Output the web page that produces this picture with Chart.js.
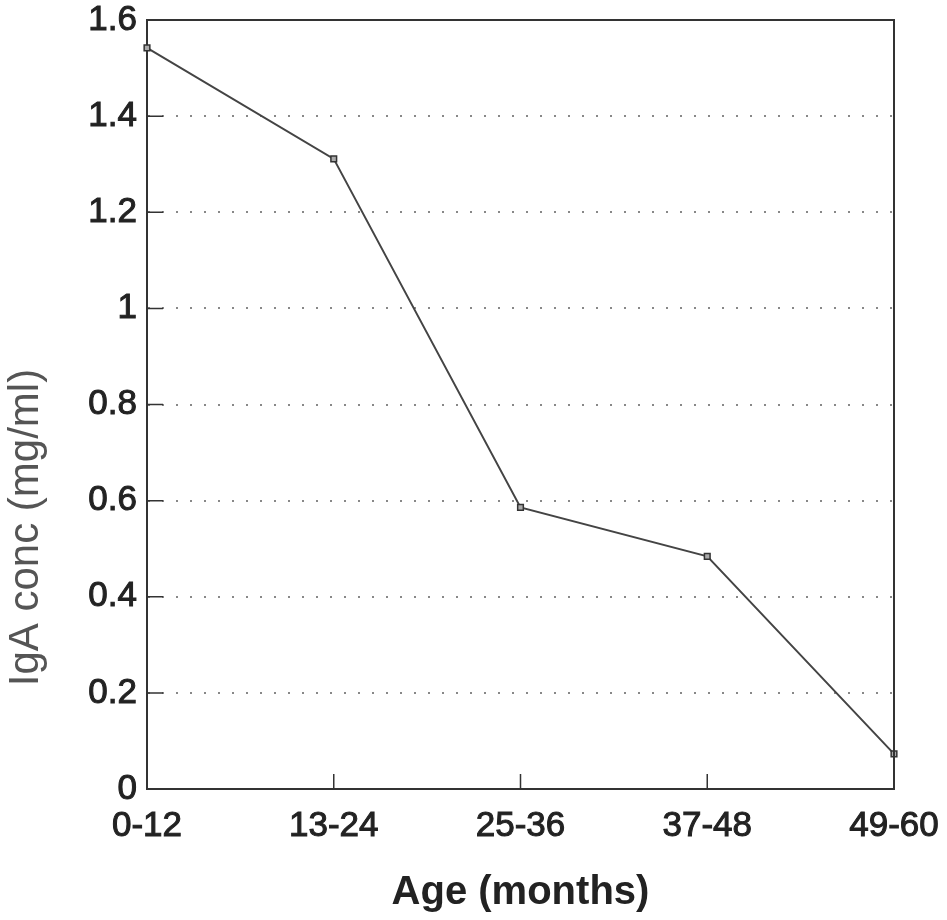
<!DOCTYPE html>
<html>
<head>
<meta charset="utf-8">
<title>IgA conc by age</title>
<script src="https://cdn.jsdelivr.net/npm/chart.js@4.4.0/dist/chart.umd.min.js"></script>
<style>
    html, body { margin: 0; padding: 0; background: #fff; }
    #wrap { width: 947px; height: 920px; }
</style>
</head>
<body>
<div id="wrap"><canvas id="myChart" width="947" height="920"></canvas></div>
<script>
var ageGroups = ['0-12', '13-24', '25-36', '37-48', '49-60'];
var igaValues = [1.542, 1.311, 0.586, 0.484, 0.073];
var yTicks = [0, 0.2, 0.4, 0.6, 0.8, 1, 1.2, 1.4, 1.6];
var xTitle = 'Age (months)';
var yTitle = 'IgA conc (mg/ml)';

var fontFamily = '"Liberation Sans", Arial, Helvetica, sans-serif';
var inkColor = '#333';

// top/right frame, inward tick marks and the y title
var framePlugin = {
    id: 'frame',
    afterDraw: function (chart) {
        var ctx = chart.ctx;
        var area = chart.chartArea;
        var xScale = chart.scales.x;
        var yScale = chart.scales.y;

        ctx.save();
        ctx.strokeStyle = inkColor;
        ctx.lineWidth = 2;
        ctx.beginPath();
        ctx.moveTo(area.left, area.top);
        ctx.lineTo(area.right, area.top);
        ctx.lineTo(area.right, area.bottom);
        ctx.stroke();

        ctx.lineWidth = 1.5;
        ctx.beginPath();
        yTicks.slice(1, -1).forEach(function (v) {
            var y = yScale.getPixelForValue(v);
            ctx.moveTo(area.left, y);
            ctx.lineTo(area.left + 16, y);
        });
        ageGroups.slice(1, -1).forEach(function (label, i) {
            var x = xScale.getPixelForValue(i + 1);
            ctx.moveTo(x, area.bottom);
            ctx.lineTo(x, area.bottom - 15);
        });
        ctx.stroke();

        ctx.translate(38, area.top + (area.bottom - area.top) * 0.66);
        ctx.rotate(-Math.PI / 2);
        ctx.font = '42px ' + fontFamily;
        ctx.fillStyle = '#555';
        ctx.textAlign = 'center';
        ctx.textBaseline = 'alphabetic';
        ctx.fillText(yTitle, 0, 0);
        ctx.restore();
    }
};

var ctx = document.getElementById('myChart').getContext('2d');
var myChart = new Chart(ctx, {
    type: 'line',
    data: {
        labels: ageGroups,
        datasets: [{
            label: 'IgA',
            data: igaValues,
            borderColor: '#444',
            borderWidth: 2,
            tension: 0,
            fill: false,
            pointStyle: 'rect',
            pointRadius: 4,
            pointBackgroundColor: '#aaa',
            pointBorderColor: '#333',
            pointBorderWidth: 1.5,
            clip: false
        }]
    },
    options: {
        responsive: false,
        animation: false,
        devicePixelRatio: 1,
        layout: {
            padding: { top: 20, right: 53, bottom: 0, left: 0 }
        },
        plugins: {
            legend: { display: false },
            tooltip: { enabled: false }
        },
        scales: {
            x: {
                type: 'category',
                offset: false,
                grid: { display: false, drawTicks: false },
                border: { display: true, color: inkColor, width: 2 },
                ticks: {
                    autoSkip: false,
                    maxRotation: 0,
                    padding: 16,
                    color: '#222',
                    textStrokeColor: '#222',
                    textStrokeWidth: 1,
                    font: { family: fontFamily, size: 35 }
                },
                title: {
                    display: true,
                    text: xTitle,
                    color: '#222',
                    font: { family: fontFamily, size: 40, weight: 'bold' },
                    padding: { top: 0, bottom: 3 }
                },
                afterFit: function (scale) {
                    scale.height = 131;
                    scale.paddingLeft = 0;
                    scale.paddingRight = 0;
                }
            },
            y: {
                min: 0,
                max: 1.6,
                afterBuildTicks: function (scale) {
                    scale.ticks = yTicks.map(function (v) { return { value: v }; });
                },
                grid: {
                    drawTicks: false,
                    lineWidth: 2,
                    color: function (c) {
                        if (!c.tick || c.tick.value === 0 || c.tick.value === 1.6) {
                            return 'rgba(0,0,0,0)';
                        }
                        return '#888';
                    }
                },
                border: { display: true, color: inkColor, width: 2, dash: [2, 12] },
                ticks: {
                    padding: 10,
                    color: '#222',
                    textStrokeColor: '#222',
                    textStrokeWidth: 1,
                    font: { family: fontFamily, size: 35 },
                    callback: function (value) { return String(value); }
                },
                afterFit: function (scale) {
                    scale.width = 147;
                    scale.paddingTop = 0;
                    scale.paddingBottom = 0;
                }
            }
        }
    },
    plugins: [framePlugin]
});
</script>
</body>
</html>
